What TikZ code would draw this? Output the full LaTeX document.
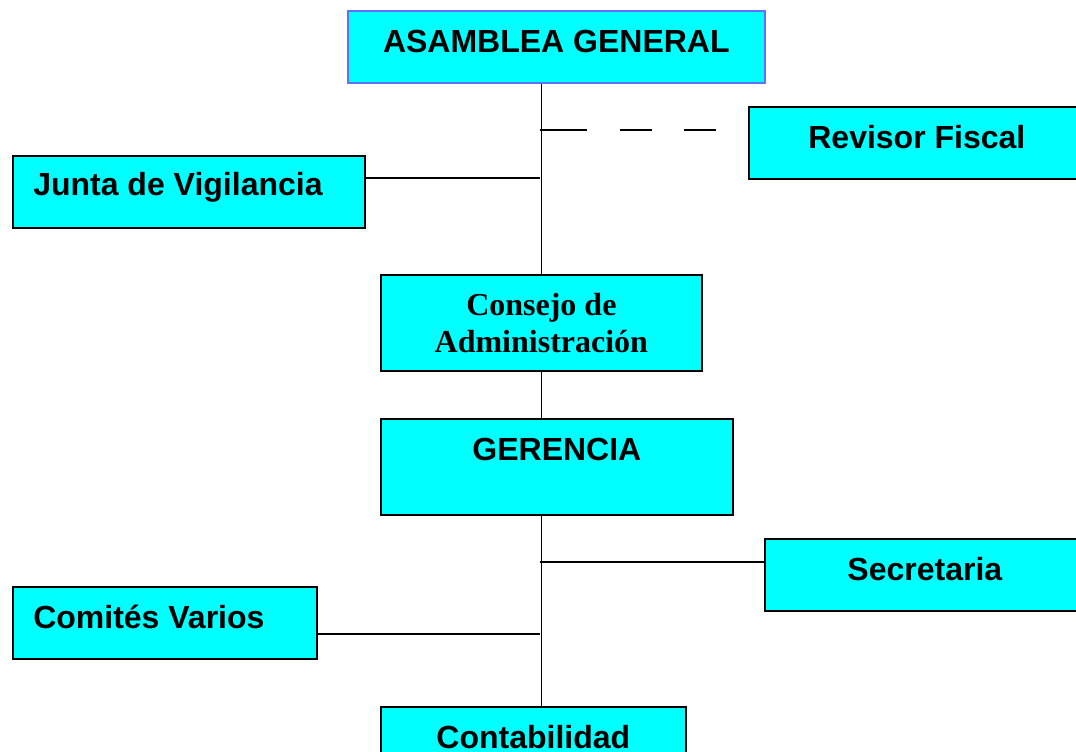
\documentclass[tikz,border=0pt]{standalone}
\usepackage{fontspec}
\setmainfont{Liberation Sans}
\newfontfamily\serifa{Liberation Serif}
\usetikzlibrary{calc}
\definecolor{celeste}{RGB}{0,255,255}
\definecolor{azulborde}{RGB}{96,112,255}

\begin{document}
\begin{tikzpicture}[x=0.75pt,y=-0.75pt,
    caja/.style={draw=black,fill=celeste,line width=1.3pt,rectangle,inner sep=0pt,anchor=north west},
    texto/.style={font=\bfseries\fontsize{24}{28}\selectfont,inner sep=0pt,anchor=base},
    linea/.style={line width=1.3pt}]
        \clip (0,0) rectangle (1076,751);

        % Boxes
        \node[caja,draw=azulborde,minimum width=312.75pt,minimum height=54pt] (asamblea) at (347,10) {};
        \node[caja,minimum width=247.5pt,minimum height=54pt] (revisor) at (748,106) {};
        \node[caja,minimum width=264pt,minimum height=54pt] (junta) at (12,155) {};
        \node[caja,minimum width=240.75pt,minimum height=72pt] (consejo) at (380,274) {};
        \node[caja,minimum width=264pt,minimum height=72pt] (gerencia) at (380,418) {};
        \node[caja,minimum width=235.5pt,minimum height=54pt] (secretaria) at (764,538) {};
        \node[caja,minimum width=228pt,minimum height=54pt] (comites) at (12,586) {};
        \node[caja,minimum width=228.75pt,minimum height=54pt] (contabilidad) at (380,706) {};

        % Junctions
        \coordinate (nudoRevisor) at (540,130);
        \coordinate (finRevisor) at (716,130);
        \coordinate (nudoJunta) at (540,178);
        \coordinate (nudoSecretaria) at (540,562);
        \coordinate (nudoComites) at (540,634);

        % Lines
        \draw[linea] (consejo.north |- asamblea.south) -- (consejo.north);
        \draw[linea,dash pattern=on 35pt off 25pt on 24pt off 24pt on 24pt] (nudoRevisor) -- (finRevisor);
        \draw[linea] (nudoJunta) -- (nudoJunta -| junta.east);
        \draw[linea] (consejo.south) -- (consejo.south |- gerencia.north);
        \draw[linea] (consejo.south |- gerencia.south) -- (consejo.south |- contabilidad.north);
        \draw[linea] (nudoSecretaria) -- (nudoSecretaria -| secretaria.west);
        \draw[linea] (nudoComites) -- (nudoComites -| comites.east);

        % Labels
        \node[texto] (tasamblea) at ($(asamblea.north)+(0,42)$) {ASAMBLEA GENERAL};
        \node[texto] (trevisor) at ($(revisor.north)+(3,42)$) {Revisor Fiscal};
        \node[texto,anchor=base west] (tjunta) at ($(junta.north west)+(21,40)$) {Junta de Vigilancia};
        \node[font=\serifa\bfseries\fontsize{24}{27.75}\selectfont,align=center,inner sep=0pt] (tconsejo) at (consejo.center) {Consejo de\\Administración};
        \node[texto] (tgerencia) at ($(gerencia.north)+(0,42)$) {GERENCIA};
        \node[texto] (tsecretaria) at ($(secretaria.north)+(3,42)$) {Secretaria};
        \node[texto,anchor=base west] (tcomites) at ($(comites.north west)+(21,42)$) {Comités Varios};
        \node[texto] (tcontabilidad) at ($(contabilidad.north)+(0,42)$) {Contabilidad};
    \end{tikzpicture}
\end{document}
